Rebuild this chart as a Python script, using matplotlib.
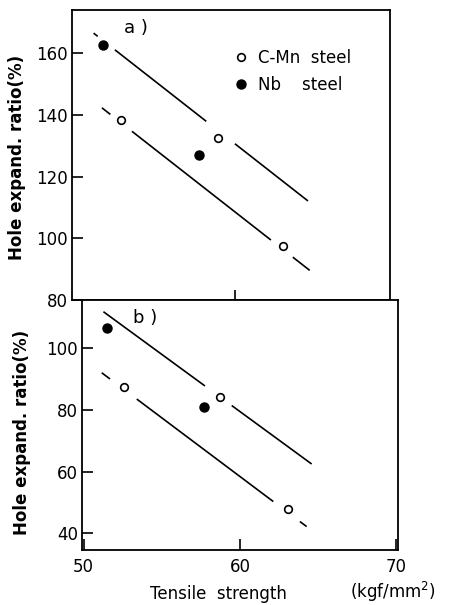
import numpy as np
import matplotlib
matplotlib.use("Agg")
import matplotlib.pyplot as plt

# measured points, a) and b) panels
a_cmn_x = [52.7, 58.9, 63.1]
a_cmn_y = [138.3, 132.4, 97.4]
a_nb_x = [51.6, 57.7]
a_nb_y = [162.5, 127.0]

b_cmn_x = [52.6, 58.7, 63.1]
b_cmn_y = [87.4, 84.3, 47.9]
b_nb_x = [51.5, 57.7]
b_nb_y = [106.7, 81.1]

# trend lines: end points and the gaps left around the symbols
a_upper_x = [50.97, 64.67]
a_upper_y = [166.5, 112.1]
a_upper_gaps = [(51.23, 52.33), (58.17, 60.0)]
a_lower_x = [51.5, 64.78]
a_lower_y = [142.3, 89.6]
a_lower_gaps = [(52.04, 53.42), (62.3, 63.7)]

b_upper_x = [51.27, 64.58]
b_upper_y = [111.9, 62.5]
b_upper_gaps = [(57.76, 59.47)]
b_lower_x = [51.16, 64.26]
b_lower_y = [92.1, 42.2]
b_lower_gaps = [(51.69, 53.4), (62.13, 63.83)]


def broken_line(ax, xs, ys, gaps):
    edges = [xs[0]]
    for g0, g1 in gaps:
        edges += [g0, g1]
    edges.append(xs[1])
    for i in range(0, len(edges), 2):
        sx = [edges[i], edges[i + 1]]
        sy = np.interp(sx, xs, ys)
        ax.plot(sx, sy, color="black", lw=1.2, solid_capstyle="butt")


def style(ax):
    for s in ax.spines.values():
        s.set_linewidth(1.3)
    ax.tick_params(direction="in", length=8, width=1.2, labelsize=12, pad=3,
                   top=False, right=False)


fig = plt.figure(figsize=(4.49, 6.05), dpi=100)
ax1 = fig.add_axes([0.160, 1 - 300 / 605, 318 / 449, 290 / 605])
ax2 = fig.add_axes([82 / 449, 1 - 550 / 605, 316 / 449, 250 / 605])

# a)
broken_line(ax1, a_upper_x, a_upper_y, a_upper_gaps)
broken_line(ax1, a_lower_x, a_lower_y, a_lower_gaps)
ax1.plot(a_cmn_x, a_cmn_y, "o", ms=5.5, mfc="white", mec="black", mew=1.2,
         ls="none", label="C-Mn  steel")
ax1.plot(a_nb_x, a_nb_y, "o", ms=6.5, mfc="black", mec="black",
         ls="none", label="Nb    steel")
ax1.set_xlim(49.58, 69.9)
ax1.set_ylim(80, 174)
ax1.set_xticks([60])
ax1.set_xticklabels([])
ax1.set_yticks([80, 100, 120, 140, 160])
style(ax1)
ax1.tick_params(axis="x", length=7)
ax1.set_ylabel("Hole expand. ratio(%)", fontsize=12, fontweight="bold")
ax1.yaxis.set_label_coords(-0.145, 0.49)
ax1.text(0.2, 0.938, "a )", transform=ax1.transAxes, fontsize=13,
         ha="center", va="center")
ax1.legend(loc="upper left", bbox_to_anchor=(0.47, 0.905), frameon=False,
           fontsize=12, handletextpad=0.5, labelspacing=0.5,
           handlelength=1.0, borderpad=0.2)

# b)
broken_line(ax2, b_upper_x, b_upper_y, b_upper_gaps)
broken_line(ax2, b_lower_x, b_lower_y, b_lower_gaps)
ax2.plot(b_cmn_x, b_cmn_y, "o", ms=5.5, mfc="white", mec="black", mew=1.2,
         ls="none")
ax2.plot(b_nb_x, b_nb_y, "o", ms=6.5, mfc="black", mec="black", ls="none")
ax2.set_xlim(49.9, 70.1)
ax2.set_ylim(34.6, 115.7)
ax2.set_xticks([50, 60, 70])
ax2.set_yticks([40, 60, 80, 100])
style(ax2)
ax2.tick_params(axis="x", pad=6)
ax2.set_ylabel("Hole expand. ratio(%)", fontsize=12, fontweight="bold")
ax2.yaxis.set_label_coords(-0.16, 0.47)
ax2.text(0.2, 0.928, "b )", transform=ax2.transAxes, fontsize=13,
         ha="center", va="center")

fig.text(218 / 449, 1 - 594 / 605, "Tensile  strength", fontsize=12,
         ha="center", va="center")
fig.text(393 / 449, 1 - 592 / 605, "(kgf/mm$^2$)", fontsize=12,
         ha="center", va="center")

fig.savefig("out.png", dpi=100)
